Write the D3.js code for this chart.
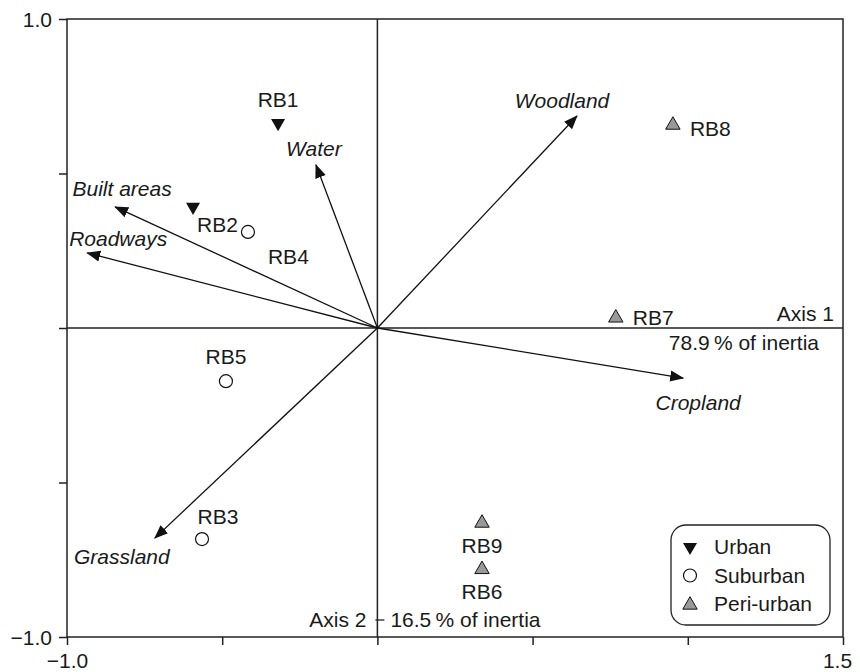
<!DOCTYPE html>
<html>
<head>
<meta charset="utf-8">
<script src="https://cdn.jsdelivr.net/npm/d3@7"></script>
<style>
  body { margin: 0; background: #fff; }
  svg text { font-family: "Liberation Sans", Arial, sans-serif; font-size: 21px; fill: #1a1a1a; }
</style>
</head>
<body>
<svg id="chart" width="860" height="672"></svg>
<script>
// sites (row scores)
var siteNames = ["RB1", "RB2", "RB3", "RB4", "RB5", "RB6", "RB7", "RB8", "RB9"];
var siteType  = ["Urban", "Urban", "Suburban", "Suburban", "Suburban", "Peri-urban", "Peri-urban", "Peri-urban", "Peri-urban"];
var siteX     = [-0.320, -0.594, -0.565, -0.417, -0.488, 0.337, 0.768, 0.952, 0.337];
var siteY     = [0.663, 0.392, -0.683, 0.311, -0.172, -0.778, 0.036, 0.660, -0.628];

// land use variables (column scores)
var varNames = ["Woodland", "Water", "Built areas", "Roadways", "Cropland", "Grassland"];
var varX     = [0.643, -0.198, -0.845, -0.935, 0.985, -0.717];
var varY     = [0.686, 0.528, 0.392, 0.243, -0.162, -0.680];

var xTicks = [-1.0, -0.5, 0, 0.5, 1.0, 1.5];
var yTicks = [-1.0, -0.5, 0, 0.5, 1.0];
var legendTypes = ["Urban", "Suburban", "Peri-urban"];

var margin = {left: 67, top: 19, right: 17, bottom: 35};
var W = 860 - margin.left - margin.right, H = 672 - margin.top - margin.bottom;

var svg = d3.select("#chart");
var g = svg.append("g").attr("transform", "translate(" + margin.left + "," + margin.top + ")");

var x = d3.scaleLinear().domain([-1, 1.5]).range([0, W]);
var y = d3.scaleLinear().domain([-1, 1]).range([H, 0]);
var fmt = d3.format(".1f");

// axes
var xAxis = d3.axisBottom(x).tickValues(xTicks).tickSize(8).tickSizeOuter(0)
    .tickFormat(function(d){ return (d == -1 || d == 1.5) ? fmt(d) : ""; });
var yAxis = d3.axisLeft(y).tickValues(yTicks).tickSize(8).tickSizeOuter(0)
    .tickFormat(function(d){ return (d == -1 || d == 1) ? fmt(d) : ""; });

var gx = g.append("g").attr("transform", "translate(0," + H + ")").call(xAxis);
var gy = g.append("g").call(yAxis);
[gx, gy].forEach(function(a){
    a.select(".domain").remove();
    a.selectAll("line").attr("stroke", "#222").attr("stroke-width", 1.5);
    a.selectAll("text").attr("font-size", 21).attr("font-family", null).style("fill", "#1a1a1a");
});
gx.selectAll("text").attr("dy", "0.95em");
gx.selectAll(".tick").filter(function(d){ return d == 1.5; }).select("text").attr("dx", -6);
gy.selectAll("text").attr("dx", -4).attr("dy", "0.36em");

// frame and centre axes
g.append("rect").attr("width", W).attr("height", H)
    .attr("fill", "none").attr("stroke", "#222").attr("stroke-width", 1.5);
g.append("line").attr("x1", 0).attr("x2", W).attr("y1", y(0)).attr("y2", y(0))
    .attr("stroke", "#222").attr("stroke-width", 1.5);
g.append("line").attr("x1", x(0)).attr("x2", x(0)).attr("y1", 0).attr("y2", H)
    .attr("stroke", "#222").attr("stroke-width", 1.5);

g.append("text").attr("x", W - 9).attr("y", y(0) - 7).attr("text-anchor", "end").text("Axis 1");
g.append("text").attr("x", W - 24).attr("y", y(0) + 22).attr("text-anchor", "end").text("78.9\u2009% of inertia");
g.append("text").attr("x", x(0) - 11).attr("y", H - 10).attr("text-anchor", "end").text("Axis 2");
g.append("line").attr("x1", x(0) - 2).attr("x2", x(0) + 7).attr("y1", H - 17).attr("y2", H - 17)
    .attr("stroke", "#222").attr("stroke-width", 1.3);
g.append("text").attr("x", x(0) + 13).attr("y", H - 10).attr("text-anchor", "start").text("16.5\u2009% of inertia");

// arrows
svg.append("defs").append("marker").attr("id", "head")
    .attr("markerUnits", "userSpaceOnUse").attr("viewBox", "0 -6 14 12")
    .attr("markerWidth", 14).attr("markerHeight", 12).attr("refX", 13).attr("refY", 0)
    .attr("orient", "auto")
    .append("path").attr("d", "M0,-5.5L14,0L0,5.5Z").attr("fill", "#111");

var varLabelOff = {"Woodland": [-15, -8], "Water": [-2, -9], "Built areas": [7, -11],
    "Roadways": [31, -7], "Cropland": [15, 32], "Grassland": [-33, 26]};

varNames.forEach(function(n, i){
    g.append("line").attr("x1", x(0)).attr("y1", y(0)).attr("x2", x(varX[i])).attr("y2", y(varY[i]))
        .attr("stroke", "#111").attr("stroke-width", 1.3).attr("marker-end", "url(#head)");
    var o = varLabelOff[n];
    g.append("text").attr("x", x(varX[i]) + o[0]).attr("y", y(varY[i]) + o[1])
        .attr("text-anchor", "middle").attr("font-style", "italic").text(n);
});

// symbols
function drawSymbol(sel, type, cx, cy){
    if(type == "Urban"){
        sel.append("path").attr("d", d3.symbol(d3.symbolTriangle, 85)())
            .attr("transform", "translate(" + cx + "," + cy + ") rotate(180)").attr("fill", "#111");
    } else if(type == "Suburban"){
        sel.append("circle").attr("cx", cx).attr("cy", cy).attr("r", 6.5)
            .attr("fill", "#fff").attr("stroke", "#111").attr("stroke-width", 1.2);
    } else {
        sel.append("path").attr("d", d3.symbol(d3.symbolTriangle, 90)())
            .attr("transform", "translate(" + cx + "," + (cy + 1) + ")")
            .attr("fill", "#999").attr("stroke", "#111").attr("stroke-width", 1);
    }
}

var siteLabelOff = {"RB1": [0, -16, "middle"], "RB2": [4, 25, "start"], "RB3": [16, -15, "middle"],
    "RB4": [20, 32, "start"], "RB5": [0, -17, "middle"], "RB6": [0, 31, "middle"],
    "RB7": [17, 8, "start"], "RB8": [17, 12, "start"], "RB9": [0, 31, "middle"]};

siteNames.forEach(function(n, i){
    var cx = x(siteX[i]), cy = y(siteY[i]);
    drawSymbol(g, siteType[i], cx, cy);
    var o = siteLabelOff[n];
    g.append("text").attr("x", cx + o[0]).attr("y", cy + o[1]).attr("text-anchor", o[2]).text(n);
});

// legend
var lg = g.append("g").attr("transform", "translate(" + (W - 172) + "," + (H - 112) + ")");
lg.append("rect").attr("width", 159).attr("height", 100).attr("rx", 15)
    .attr("fill", "#fff").attr("stroke", "#222").attr("stroke-width", 1.3);
legendTypes.forEach(function(t, i){
    var ly = 22 + i * 28.5;
    drawSymbol(lg, t, 19, ly);
    lg.append("text").attr("x", 43).attr("y", ly + 7).text(t);
});
</script>
</body>
</html>
